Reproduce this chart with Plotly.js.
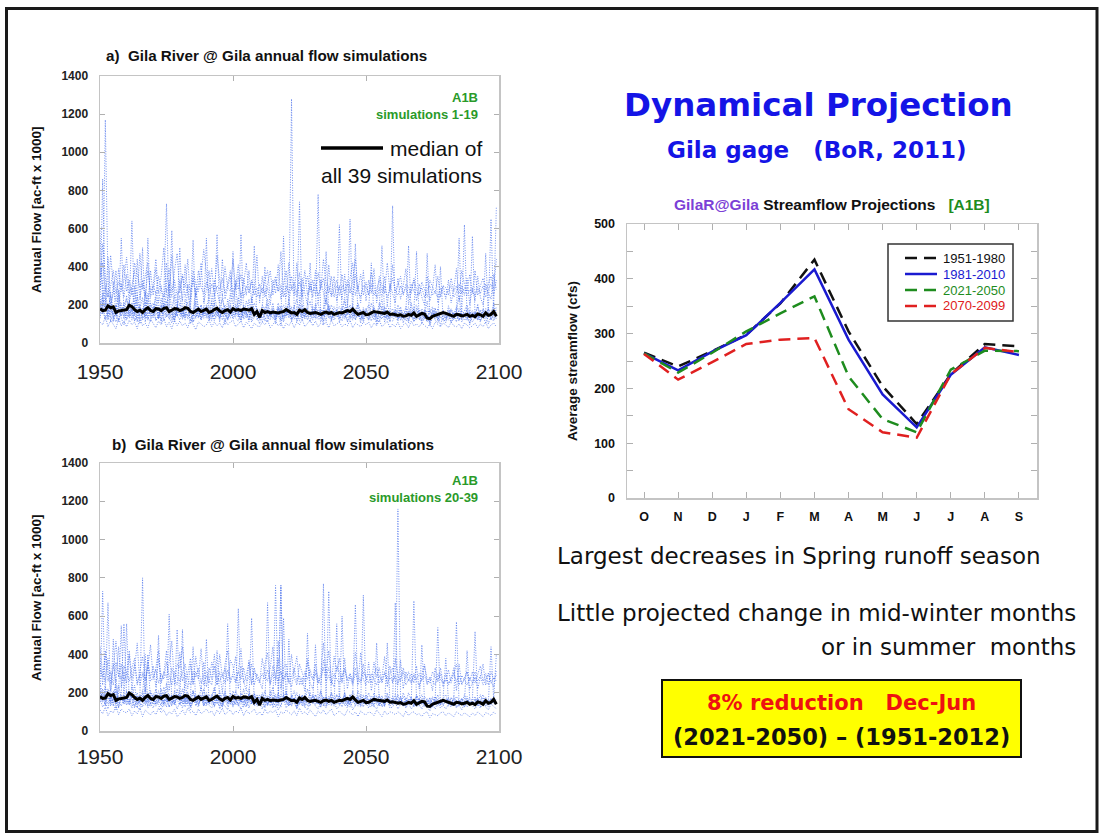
<!DOCTYPE html>
<html>
<head>
<meta charset="utf-8">
<script src="https://cdn.plot.ly/plotly-3.0.1.min.js"></script>
<style>html,body{margin:0;padding:0;background:#fff;}#chart{width:1102px;height:833px;}</style>
</head>
<body>
<div id="chart"></div>
<script>
// ---------- DATA ----------
const years = [
1950,1951,1952,1953,1954,1955,1956,1957,1958,1959,
1960,1961,1962,1963,1964,1965,1966,1967,1968,1969,
1970,1971,1972,1973,1974,1975,1976,1977,1978,1979,
1980,1981,1982,1983,1984,1985,1986,1987,1988,1989,
1990,1991,1992,1993,1994,1995,1996,1997,1998,1999,
2000,2001,2002,2003,2004,2005,2006,2007,2008,2009,
2010,2011,2012,2013,2014,2015,2016,2017,2018,2019,
2020,2021,2022,2023,2024,2025,2026,2027,2028,2029,
2030,2031,2032,2033,2034,2035,2036,2037,2038,2039,
2040,2041,2042,2043,2044,2045,2046,2047,2048,2049,
2050,2051,2052,2053,2054,2055,2056,2057,2058,2059,
2060,2061,2062,2063,2064,2065,2066,2067,2068,2069,
2070,2071,2072,2073,2074,2075,2076,2077,2078,2079,
2080,2081,2082,2083,2084,2085,2086,2087,2088,2089,
2090,2091,2092,2093,2094,2095,2096,2097,2098,2099];

const medianAll39 = [
180,170,172,195,185,190,160,168,170,172,
175,198,190,175,165,172,160,175,185,170,
165,180,178,170,182,185,165,172,180,178,
170,175,185,182,165,160,170,178,165,172,
178,160,165,175,182,168,160,170,175,162,
180,172,175,170,178,176,172,180,150,165,
135,170,160,165,158,162,160,158,162,165,
175,165,158,160,150,172,165,175,160,155,
158,160,155,150,158,162,155,160,150,155,
160,158,162,170,165,178,162,150,155,160,
148,150,158,165,162,160,158,155,162,150,
152,150,145,148,140,142,150,145,158,140,
148,155,152,130,128,140,145,150,158,160,
155,148,145,140,150,148,142,145,150,140,
145,138,152,148,140,158,145,150,165,140];

// panel a: simulations 1-19 (representative members)
const simA1 = [
210,150,1170,320,140,110,180,260,130,95,
160,220,140,300,120,175,240,110,190,150,
130,270,180,105,210,160,330,140,120,190,
250,130,170,215,100,145,290,180,125,160,
200,140,115,260,175,130,185,95,230,150,
170,310,140,120,200,165,110,240,150,135,
100,180,400,130,155,210,120,165,90,175,
140,230,125,195,110,160,280,135,185,150,
120,205,145,170,95,260,140,115,190,160,
130,175,240,110,150,200,125,165,105,185,
140,120,210,160,95,175,230,130,150,110,
720,140,115,190,125,160,105,210,135,120,
175,100,150,220,90,140,185,115,160,130,
105,195,140,120,165,250,110,145,185,95,
160,130,205,115,150,180,100,140,210,120];
const simA2 = [
590,200,130,175,250,140,110,195,550,160,
120,180,640,150,210,100,165,140,260,130,
190,115,150,235,140,280,125,170,110,205,
145,175,120,300,160,110,220,135,180,150,
550,125,175,140,195,110,255,150,120,170,
135,200,160,110,185,145,230,120,165,140,
175,110,150,205,135,160,100,190,125,560,
150,180,115,160,140,205,120,175,150,110,
190,140,780,125,165,115,200,150,135,175,
110,160,145,200,125,170,520,135,155,120,
180,150,115,165,140,125,195,110,160,145,
130,175,120,150,105,160,510,140,115,170,
145,120,165,135,100,175,125,150,90,155,
130,165,110,145,175,120,150,620,135,105,
160,125,145,110,180,135,160,120,150,175];
const simA3 = [
160,860,220,130,180,150,200,120,170,140,
250,130,175,115,160,200,500,145,120,185,
150,205,130,175,260,730,160,120,190,140,
180,125,160,140,210,540,135,175,120,165,
130,190,150,115,175,140,160,200,125,155,
480,140,170,125,190,155,135,165,510,120,
155,175,115,160,140,185,130,150,175,110,
165,140,190,125,155,740,145,170,120,160,
135,180,155,110,165,145,195,125,150,170,
140,115,185,150,650,130,160,200,125,145,
165,130,150,185,110,160,140,175,120,155,
145,170,125,160,135,190,115,150,165,480,
120,155,140,110,175,130,160,125,145,170,
140,120,165,150,110,180,135,155,125,160,
130,165,120,150,140,125,170,650,145,190];
const simA4 = [
230,180,300,150,270,120,200,165,140,210,
145,170,120,190,230,135,160,215,125,180,
210,150,165,120,200,140,175,590,135,160,
500,165,140,185,120,150,175,130,200,145,
165,130,210,145,170,125,185,150,135,200,
150,175,135,570,145,165,120,190,140,175,
130,160,185,140,120,170,150,135,195,125,
175,150,1280,140,185,165,130,155,200,420,
150,130,175,160,140,480,155,125,170,145,
620,145,125,170,155,185,140,160,120,175,
150,175,420,135,160,145,125,190,150,130,
160,140,175,120,155,135,170,150,125,185,
140,165,125,470,150,135,175,120,160,145,
125,150,175,140,160,550,125,145,170,135,
560,145,120,165,135,150,180,125,155,140];
const simA5 = [
130,240,170,200,110,320,145,175,210,125,
175,140,200,165,110,155,185,130,550,160,
140,175,125,160,185,135,150,170,120,190,
160,140,185,125,170,155,130,190,145,175,
145,170,130,185,570,155,140,165,120,180,
125,160,190,140,175,130,165,145,185,150,
165,130,155,175,140,160,120,185,150,135,
185,130,165,150,120,170,145,135,160,140,
165,150,125,180,140,155,170,130,165,150,
150,185,135,160,145,120,175,140,165,130,
175,140,165,120,155,185,510,145,130,165,
140,160,135,175,150,125,165,140,185,130,
160,135,175,145,125,165,150,135,400,120,
150,175,130,160,140,125,165,150,120,170,
140,160,130,175,150,470,135,160,125,145];
const simA6 = [
110,95,140,85,120,100,75,130,90,115,
85,120,95,110,75,135,90,105,80,125,
100,80,115,95,130,85,110,75,120,90,
115,90,105,80,125,95,70,110,100,85,
95,120,85,110,90,105,80,125,95,110,
120,85,100,115,80,110,95,75,105,90,
85,110,95,120,80,100,115,90,105,75,
105,90,115,80,110,95,125,85,100,120,
90,115,85,105,95,110,80,120,90,100,
110,85,100,90,120,80,105,95,85,110,
95,110,80,105,90,120,85,100,115,80,
100,85,110,75,95,105,80,115,90,100,
85,105,90,80,100,75,110,95,85,105,
95,80,110,90,85,100,75,105,95,80,
90,105,80,100,85,110,75,95,105,85];
const simA7 = [
350,420,280,240,300,380,260,320,290,410,
270,330,250,420,360,290,310,240,380,270,
300,260,350,280,240,320,390,270,330,250,
280,360,240,310,270,330,250,380,290,260,
320,270,390,250,300,280,340,260,310,380,
260,330,280,360,240,300,270,320,250,290,
240,290,260,310,380,250,330,270,300,240,
300,260,350,280,240,320,270,380,250,300,
270,310,250,290,340,260,300,240,280,330,
250,300,270,330,290,250,360,270,240,300,
290,260,310,250,280,330,270,300,240,280,
340,270,250,300,260,290,240,310,270,250,
260,290,240,280,300,250,270,240,290,260,
250,280,300,240,270,310,260,290,250,280,
270,250,290,260,300,240,280,310,250,330];
const simA8 = [
190,260,240,120,210,170,140,280,160,200,
230,160,210,140,250,180,130,270,150,210,
170,240,130,200,160,220,150,180,250,140,
210,150,230,170,190,140,260,160,200,130,
180,240,150,210,140,190,230,170,150,260,
200,150,240,170,130,220,180,150,210,170,
140,200,170,230,150,180,140,210,160,200,
170,210,150,190,230,160,200,140,180,220,
150,190,210,140,180,230,160,200,150,170,
190,160,220,150,200,140,180,210,160,150,
170,200,150,190,140,210,170,150,200,160,
180,140,200,160,170,150,190,140,180,200,
150,180,140,170,160,190,140,180,150,170,
160,140,180,150,190,160,140,170,200,150,
170,150,190,140,170,150,180,160,190,710];
const simA9 = [
420,300,180,450,210,260,380,190,310,240,
360,210,290,180,440,230,330,270,200,380,
250,390,210,300,180,420,240,460,280,200,
330,220,410,260,190,350,240,300,420,210,
280,380,200,330,260,210,440,230,290,350,
230,300,410,200,340,250,380,210,290,460,
210,350,240,290,200,330,260,410,230,300,
380,220,300,250,420,210,340,260,200,320,
240,380,210,330,270,200,410,250,350,220,
300,230,360,200,340,420,250,300,210,380,
220,330,260,390,210,290,240,350,200,310,
260,210,340,230,300,390,200,280,330,220,
310,240,200,350,220,280,410,210,260,300,
230,330,210,280,390,220,300,250,340,200,
290,220,350,240,200,310,260,230,360,280];
const simA10 = [
140,175,120,160,200,130,155,110,185,170,
125,150,180,115,140,195,120,160,135,110,
175,120,140,190,115,150,130,105,160,145,
120,185,135,150,175,110,140,165,125,190,
150,115,170,125,140,185,120,155,175,130,
165,130,115,175,125,145,160,110,135,180,
120,155,135,110,170,125,145,180,115,150,
135,175,120,145,160,115,180,125,140,165,
170,125,140,155,115,175,130,160,120,145,
125,165,150,115,130,170,120,145,175,110,
155,120,140,175,125,110,160,135,145,120,
115,145,160,125,140,115,130,165,110,150,
135,115,125,150,110,160,120,105,140,115,
120,150,105,135,145,115,155,120,130,145,
110,135,150,120,140,105,145,130,115,160];
const simA11 = [
280,520,350,240,460,300,220,390,270,330,
450,260,300,380,230,470,280,350,420,240,
300,440,260,350,500,270,310,240,380,470,
260,350,290,440,230,380,310,270,350,490,
380,240,310,270,460,330,250,400,290,270,
440,280,350,240,310,420,260,330,290,240,
310,260,330,380,240,290,350,270,480,260,
240,420,280,320,260,370,240,300,350,270,
330,250,370,280,440,310,260,350,240,300,
280,360,250,310,260,330,440,280,360,250,
320,250,370,290,240,350,300,260,420,270,
410,270,300,350,250,310,290,260,340,280,
250,320,280,240,330,290,260,350,240,300,
290,250,340,270,300,260,380,310,270,360,
260,380,250,300,340,270,310,350,280,440];

// panel b: simulations 20-39 (representative members)
const simB1 = [
180,730,150,210,130,175,240,120,190,160,
140,200,165,120,185,150,210,135,170,145,
195,130,160,220,140,175,125,190,150,165,
135,180,150,205,125,165,190,140,175,130,
160,145,190,125,175,150,135,200,145,170,
125,165,640,140,180,130,160,150,195,135,
170,145,120,185,155,135,760,160,125,190,
150,175,135,160,120,185,145,170,130,155,
185,140,160,125,175,150,730,135,170,145,
160,125,185,150,140,175,130,165,145,190,
135,170,150,125,185,140,160,130,175,150,
165,140,1160,155,130,175,145,160,125,185,
145,170,130,160,150,125,180,140,165,135,
160,130,175,145,155,135,170,125,160,150,
140,165,130,155,175,140,125,160,145,170];
const simB2 = [
220,160,190,670,140,175,130,200,550,150,
170,135,190,155,120,180,800,145,165,130,
150,180,500,140,165,125,190,150,135,175,
160,530,140,175,125,155,185,135,170,150,
480,140,165,130,185,150,125,170,145,160,
170,135,155,180,125,165,150,590,140,175,
140,165,125,670,150,135,180,145,760,160,
155,130,170,145,120,165,185,135,510,150,
170,145,160,125,180,150,135,175,140,165,
135,600,150,170,125,155,140,180,130,710,
165,140,125,170,150,135,185,145,160,130,
150,670,135,160,145,125,170,140,680,155,
130,450,160,140,175,125,150,165,135,160,
145,175,130,160,570,140,155,125,170,145,
165,520,140,155,130,175,145,440,160,135];
const simB3 = [
160,200,135,175,150,480,190,125,170,145,
560,150,180,130,165,145,125,175,400,140,
175,140,160,195,130,155,610,145,170,530,
140,170,125,160,185,440,150,135,175,155,
130,175,150,140,420,165,125,185,560,145,
155,180,135,165,145,125,175,150,140,170,
180,145,160,135,170,155,125,185,150,590,
140,480,150,175,130,160,145,125,170,150,
160,450,175,140,770,135,155,165,130,560,
150,170,135,160,145,185,660,140,155,125,
180,145,160,135,460,150,170,125,460,155,
135,160,145,175,130,155,140,170,150,125,
165,140,155,130,170,145,160,540,135,175,
380,155,140,165,125,160,150,140,420,165,
150,140,170,125,160,145,135,155,170,400];
const simB4 = [
110,90,125,80,105,95,130,85,115,100,
95,115,80,105,90,120,75,110,95,85,
105,85,120,95,110,80,100,90,115,75,
90,110,85,120,95,105,80,115,90,100,
115,95,105,80,110,90,120,85,100,110,
85,105,95,120,80,110,90,100,115,85,
100,80,115,90,105,95,110,75,100,90,
110,95,85,105,80,120,90,100,85,110,
95,75,105,90,110,85,100,115,80,95,
105,90,80,110,95,85,100,75,105,90,
85,100,95,80,110,90,75,105,85,100,
95,85,100,90,75,105,80,95,100,85,
90,75,95,100,70,90,85,80,95,100,
80,95,85,75,100,90,80,95,85,75,
95,80,100,85,75,95,90,80,100,85];
const simB5 = [
330,280,400,260,310,240,360,290,270,340,
300,260,330,380,250,290,310,270,340,260,
280,320,250,300,270,360,290,240,310,280,
260,300,350,270,240,310,280,330,250,290,
310,270,240,340,280,260,300,250,320,270,
290,250,310,270,330,260,280,350,240,300,
260,300,270,320,250,340,290,260,310,270,
300,250,280,330,260,290,240,310,270,320,
270,300,250,280,330,260,290,240,300,270,
250,290,320,260,280,240,300,270,250,310,
280,250,300,270,240,290,260,310,250,280,
260,290,250,280,310,240,270,250,290,260,
240,270,290,250,280,260,240,300,270,250,
270,250,280,300,260,290,250,270,240,280,
250,280,260,290,240,270,300,250,280,260];
const simB6 = [
200,150,230,180,160,210,140,240,170,190,
150,210,170,240,140,190,160,220,150,200,
180,140,210,160,230,150,190,170,140,220,
160,220,150,190,140,210,170,150,230,160,
200,150,180,230,140,190,160,210,150,170,
140,210,170,150,220,160,190,140,200,150,
190,160,210,140,180,230,150,200,160,170,
210,150,180,160,200,140,190,150,220,170,
150,190,140,210,160,180,150,200,140,190,
170,150,200,140,190,160,150,210,170,140,
190,160,140,200,150,180,160,140,190,150,
160,190,150,140,180,150,200,160,140,180,
150,140,180,160,130,170,150,190,140,160,
170,150,140,180,150,130,170,150,180,140,
150,170,140,160,190,150,140,170,150,160];
const simB7 = [
250,180,130,220,190,150,270,160,200,560,
180,140,230,160,200,150,180,400,130,210,
160,220,150,190,140,250,170,130,210,180,
200,150,260,140,180,210,130,190,160,220,
140,190,170,220,150,130,200,180,160,140,
210,170,130,200,150,190,220,140,170,190,
150,200,170,140,210,160,190,130,760,150,
200,140,170,210,150,190,130,180,160,200,
140,190,160,210,130,180,150,200,170,140,
190,150,200,160,140,210,170,130,190,160,
150,200,160,180,140,190,130,170,200,150,
180,150,190,140,200,160,150,180,130,190,
160,190,140,170,150,130,180,160,140,170,
190,140,170,150,180,160,140,190,150,170,
160,180,150,190,140,170,160,140,180,150];
const simB8 = [
150,220,170,140,190,130,210,160,180,140,
210,160,140,190,170,130,180,150,200,170,
140,190,160,130,200,170,150,180,140,190,
170,140,190,160,130,210,150,170,190,140,
190,150,140,180,160,210,140,160,130,200,
160,140,190,150,170,140,200,160,180,130,
140,190,150,170,130,180,160,150,190,170,
160,130,190,150,170,140,160,190,150,130,
190,150,140,170,160,130,180,150,160,190,
140,170,160,130,190,150,160,180,140,170,
160,140,180,150,170,130,160,140,170,150,
140,170,150,180,130,160,140,170,150,140,
170,150,130,160,140,180,150,130,160,140,
150,170,140,130,160,150,170,140,160,150,
140,150,170,140,160,130,150,170,140,150];
const simB9 = [
380,240,420,300,210,350,260,440,230,310,
250,400,220,330,460,240,300,210,370,280,
340,230,380,260,300,420,210,330,270,240,
410,260,300,220,350,240,390,280,210,360,
230,330,270,400,240,310,200,350,420,250,
300,390,220,340,260,210,370,250,310,280,
260,220,350,410,240,300,270,380,220,330,
350,260,230,310,390,240,280,210,360,250,
220,320,280,240,370,300,420,260,230,340,
310,250,380,220,300,260,330,240,410,270,
240,360,210,300,330,250,280,390,230,300,
330,260,240,370,220,310,260,300,250,340,
220,300,350,240,280,210,330,260,300,230,
300,240,270,330,210,350,240,280,310,220,
250,310,220,280,350,240,300,260,230,320];
const simB10 = [
170,125,150,115,185,140,110,160,130,175,
135,160,120,175,130,110,150,185,120,145,
120,165,135,110,150,180,125,140,160,115,
150,120,175,135,110,160,140,125,180,130,
165,135,120,150,185,115,145,130,110,175,
130,160,145,115,140,175,120,165,130,150,
145,115,160,130,175,120,150,110,140,165,
120,150,130,175,115,145,165,125,110,150,
160,130,115,150,140,120,170,135,155,115,
130,155,140,120,165,110,135,150,125,145,
145,120,160,130,115,150,125,140,160,120,
125,150,115,140,155,120,145,115,135,150,
140,115,150,125,105,140,115,150,120,135,
115,140,125,150,120,135,110,145,125,150,
130,115,140,120,150,125,110,140,130,115];
const simB11 = [
440,300,260,380,250,330,470,280,350,260,
300,420,270,350,240,310,390,260,330,450,
270,330,420,250,310,280,360,470,240,350,
330,440,260,300,380,250,310,270,430,240,
290,250,360,310,240,400,280,330,260,370,
340,260,310,430,250,290,360,240,330,270,
250,380,290,260,330,440,240,470,300,260,
310,260,400,280,240,350,300,260,380,290,
270,350,250,300,460,280,330,250,390,310,
380,260,330,270,300,250,410,290,260,350,
270,300,250,360,280,330,250,300,270,340,
250,380,290,260,330,270,310,250,300,270,
300,260,340,270,250,310,280,260,330,250,
260,320,250,300,350,240,290,270,310,260,
310,250,290,340,260,300,240,310,270,290];

// right chart: monthly mean streamflow (cfs)
const monthLabels = ['O','N','D','J','F','M','A','M','J','J','A','S'];
const monthPos = [0,1,2,3,4,5,6,7,8,9,10,11];
const flow1951_1980 = [265,240,268,298,355,435,304,204,135,226,281,277];
const flow1981_2010 = [264,233,267,297,356,417,289,189,129,225,275,261];
const flow2021_2050 = [264,229,265,304,337,368,222,144,120,234,269,268];
const flow2070_2099 = [263,216,248,281,289,292,162,120,110,226,274,266];
const periodNames = ['1951-1980','1981-2010','2021-2050','2070-2099'];

const leftTicks = [1950,2000,2050,2100];

// ---------- DRAWING ----------
const W = 1102, H = 833;
const px = v => v / W;
const py = v => 1 - v / H;
const ARIAL = 'Liberation Sans, Arial, sans-serif';
const DEJA = 'DejaVu Sans, Verdana, sans-serif';

const simStyle = {color:'rgba(80,118,236,0.8)', width:1, dash:'1px,1.5px'};
const traces = [];
[simA1,simA2,simA3,simA4,simA5,simA6,simA7,simA8,simA9,simA10,simA11].forEach(s => traces.push({
  x: years, y: s, xaxis:'x', yaxis:'y', type:'scatter', mode:'lines',
  line: simStyle, showlegend:false, hoverinfo:'skip'}));
traces.push({x: years, y: medianAll39, xaxis:'x', yaxis:'y', type:'scatter', mode:'lines',
  line:{color:'#000', width:3}, showlegend:false, hoverinfo:'skip'});
[simB1,simB2,simB3,simB4,simB5,simB6,simB7,simB8,simB9,simB10,simB11].forEach(s => traces.push({
  x: years, y: s, xaxis:'x2', yaxis:'y2', type:'scatter', mode:'lines',
  line: simStyle, showlegend:false, hoverinfo:'skip'}));
traces.push({x: years, y: medianAll39, xaxis:'x2', yaxis:'y2', type:'scatter', mode:'lines',
  line:{color:'#000', width:3}, showlegend:false, hoverinfo:'skip'});

const periodColors = ['#111111','#1a1ad0','#1e8c1e','#e02020'];
const periodDash = ['12px,7px','solid','12px,7px','12px,7px'];
[flow1951_1980, flow1981_2010, flow2021_2050, flow2070_2099].forEach((s,i) => traces.push({
  x: monthPos, y: s, name: periodNames[i],
  line:{color:periodColors[i], width:2.5, dash:periodDash[i]},
  xaxis:'x3', yaxis:'y3', type:'scatter', mode:'lines', showlegend:false, hoverinfo:'skip'}));

const frame = {showline:true, linecolor:'#c4c4c4', linewidth:1.5, mirror:'ticks',
  ticks:'inside', tickcolor:'#b0b0b0', ticklen:5, tickwidth:1, showgrid:false, zeroline:false};

const layout = {
  width: W, height: H, margin:{l:0,r:0,t:0,b:0},
  paper_bgcolor:'#fff', plot_bgcolor:'#fff',
  showlegend:false,
  xaxis: Object.assign({}, frame, {domain:[px(100),px(499)], anchor:'y', range:[1950,2100],
    tickvals:leftTicks, tickfont:{family:ARIAL, size:21, color:'#222'}, ticklabelstandoff:9}),
  yaxis: Object.assign({}, frame, {domain:[py(343),py(76)], anchor:'x', range:[0,1400], dtick:200,
    tickfont:{family:ARIAL, size:12, color:'#222', weight:'bold'}, ticklabelstandoff:8}),
  xaxis2: Object.assign({}, frame, {domain:[px(100),px(499)], anchor:'y2', range:[1950,2100],
    tickvals:leftTicks, tickfont:{family:ARIAL, size:21, color:'#222'}, ticklabelstandoff:6}),
  yaxis2: Object.assign({}, frame, {domain:[py(731),py(463)], anchor:'x2', range:[0,1400], dtick:200,
    tickfont:{family:ARIAL, size:12, color:'#222', weight:'bold'}, ticklabelstandoff:8}),
  xaxis3: Object.assign({}, frame, {domain:[px(627),px(1037)], anchor:'y3', range:[-0.5,11.53],
    tickvals:monthPos, ticktext:monthLabels, ticklen:6,
    tickfont:{family:ARIAL, size:12.5, color:'#111', weight:'bold'}, ticklabelstandoff:6}),
  yaxis3: Object.assign({}, frame, {domain:[py(498),py(224)], anchor:'x3', range:[0,500], dtick:100, ticklen:6,
    minor:{dtick:50, ticks:'inside', ticklen:6, tickcolor:'#b0b0b0', showgrid:false},
    tickfont:{family:ARIAL, size:12.5, color:'#111', weight:'bold'}, ticklabelstandoff:8}),
  shapes: [
    {type:'rect', xref:'paper', yref:'paper', x0:px(6.5), x1:px(1097), y0:py(8.5), y1:py(831.5),
      line:{color:'#1a1a1a', width:3}, fillcolor:'rgba(0,0,0,0)'},
    {type:'line', xref:'paper', yref:'paper', x0:px(321), x1:px(383), y0:py(148), y1:py(148),
      line:{color:'#000', width:3.5}},
    {type:'rect', xref:'paper', yref:'paper', x0:px(662), x1:px(1021), y0:py(757), y1:py(680),
      line:{color:'#111', width:2}, fillcolor:'#ffff00'},
    {type:'rect', xref:'paper', yref:'paper', x0:px(888), x1:px(1013), y0:py(321), y1:py(244),
      line:{color:'#333', width:1.5}, fillcolor:'#fff'}
  ],
  annotations: []
};

// legend of the seasonal chart (box drawn above)
const legendRows = [258, 274, 290, 306];
periodNames.forEach((nm, i) => {
  layout.shapes.push({type:'line', xref:'paper', yref:'paper', x0:px(905), x1:px(937),
    y0:py(legendRows[i]), y1:py(legendRows[i]), line:{color:periodColors[i], width:2.5, dash:periodDash[i]}});
});

function ann(text, x, y, opts) {
  layout.annotations.push(Object.assign({text:text, x:px(x), y:py(y), xref:'paper', yref:'paper',
    showarrow:false, xanchor:'center', yanchor:'middle', font:{family:ARIAL, size:12, color:'#111'}}, opts||{}));
}
periodNames.forEach((nm, i) => ann(nm, 941, legendRows[i], {xanchor:'left', font:{family:ARIAL, size:13, color:periodColors[i]}}));

const nb = '\u00a0';
ann('<b>a)'+nb+nb+'Gila River @ Gila annual flow simulations</b>', 104, 56, {xanchor:'left', font:{family:ARIAL, size:15.2, color:'#111'}});
ann('<b>b)'+nb+nb+'Gila River @ Gila annual flow simulations</b>', 110, 444, {xanchor:'left', font:{family:ARIAL, size:15.2, color:'#111'}});
ann('<b>A1B</b>', 480, 97, {xanchor:'right', font:{family:ARIAL, size:13, color:'#2a9a2a'}});
ann('<b>simulations 1-19</b>', 480, 114, {xanchor:'right', font:{family:ARIAL, size:13, color:'#2a9a2a'}});
ann('<b>A1B</b>', 480, 480, {xanchor:'right', font:{family:ARIAL, size:13, color:'#2a9a2a'}});
ann('<b>simulations 20-39</b>', 480, 497, {xanchor:'right', font:{family:ARIAL, size:13, color:'#2a9a2a'}});
ann('median of', 388, 148, {xanchor:'left', font:{family:ARIAL, size:21, color:'#111'}});
ann('all 39 simulations', 319, 175, {xanchor:'left', font:{family:ARIAL, size:21, color:'#111'}});
ann('<b>Annual Flow [ac-ft x 1000]</b>', 36, 210, {textangle:-90, font:{family:ARIAL, size:13.5, color:'#111'}});
ann('<b>Annual Flow [ac-ft x 1000]</b>', 36, 598, {textangle:-90, font:{family:ARIAL, size:13.5, color:'#111'}});
ann('<b><span style="color:#7b3fd6">GilaR@Gila</span> Streamflow Projections'+nb+nb+nb+'<span style="color:#1e8c1e">[A1B]</span></b>', 832, 205, {font:{family:ARIAL, size:15.5, color:'#111'}});
ann('<b>Average streamflow (cfs)</b>', 573, 361, {textangle:-90, font:{family:ARIAL, size:13.5, color:'#111'}});
ann('<b>Dynamical Projection</b>', 818, 105, {font:{family:DEJA, size:32.5, color:'#1414e6'}});
ann('<b>Gila gage'+nb+nb+nb+'(BoR, 2011)</b>', 817, 150, {font:{family:DEJA, size:23, color:'#1414e6'}});
ann('Largest decreases in Spring runoff season', 555, 556, {xanchor:'left', font:{family:DEJA, size:23, color:'#111'}});
ann('Little projected change in mid-winter months', 555, 613, {xanchor:'left', font:{family:DEJA, size:23, color:'#111'}});
ann('or in summer'+nb+' months', 1078, 647, {xanchor:'right', font:{family:DEJA, size:23, color:'#111'}});
ann('<b>8% reduction'+nb+nb+nb+'Dec-Jun</b>', 841, 703, {font:{family:DEJA, size:21, color:'#ee1111'}});
ann('<b>(2021-2050) – (1951-2012)</b>', 841, 737, {font:{family:DEJA, size:22.5, color:'#111'}});

Plotly.newPlot('chart', traces, layout, {displayModeBar:false, staticPlot:true});
</script>
</body>
</html>
